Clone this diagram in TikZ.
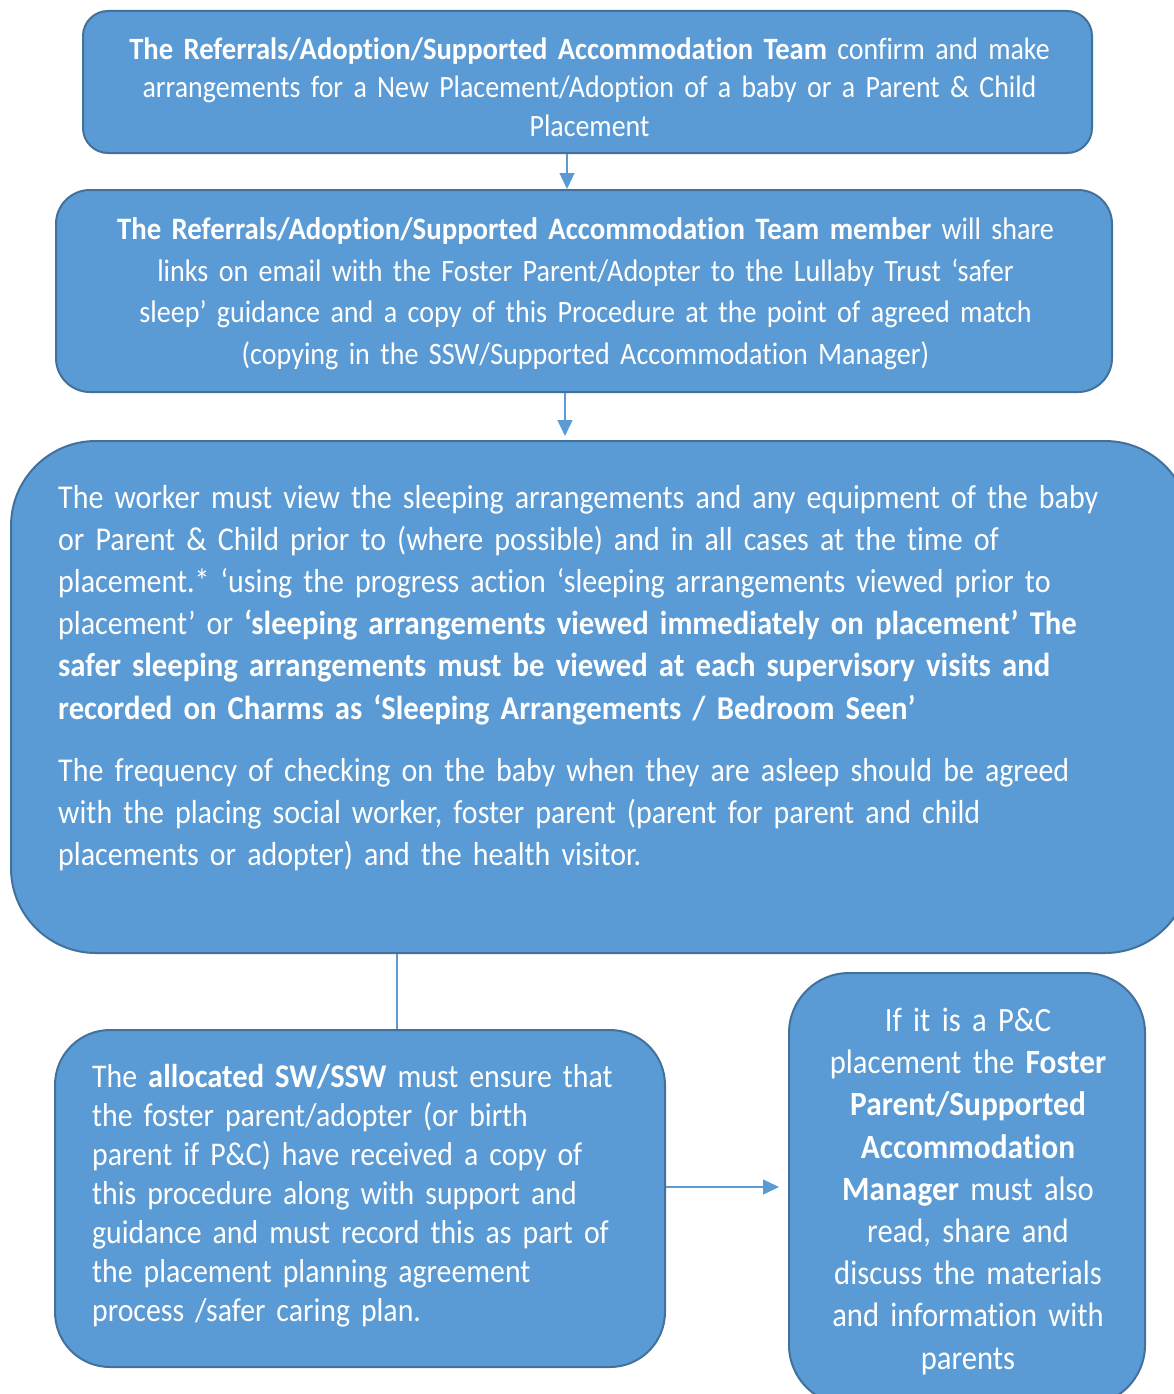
\documentclass[tikz,border=0pt]{standalone}
\usepackage{fontspec}
\setmainfont{Carlito}[Ligatures=NoCommon, UprightFeatures={FakeStretch=0.9}, BoldFeatures={FakeStretch=0.923}]
\usetikzlibrary{arrows.meta}

\definecolor{boxblue}{HTML}{5B9BD5}
\definecolor{boxedge}{HTML}{41719C}

\tikzset{
  stepbox/.style={draw=boxedge, line width=2pt, fill=boxblue, inner sep=0pt},
  boxtext/.style={text=white, inner sep=0pt},
  link/.style={draw=boxblue, line width=1.4pt},
  tip/.style={link, -{Triangle[length=16pt,width=15pt]}},
}

\begin{document}
\begin{tikzpicture}[x=1pt, y=-1pt]
    \useasboundingbox (0,0) rectangle (1174,1394);
    \clip (0,0) rectangle (1174,1394);
    % boxes
    \node[stepbox, rounded corners=25pt, minimum width=1009pt, minimum height=142pt] (team) at (587.5,82) {};
    \node[stepbox, rounded corners=34pt, minimum width=1056pt, minimum height=202pt] (member) at (584,291) {};
    \node[stepbox, rounded corners=85pt, minimum width=1179pt, minimum height=512pt] (worker) at (600.5,697) {};
    \node[stepbox, rounded corners=55pt, minimum width=610pt, minimum height=337pt] (allocated) at (360,1198.5) {};
    \node[stepbox, rounded corners=60pt, minimum width=356pt, minimum height=432pt] (manager) at (967,1189) {};
    % texts
    \node[boxtext, text width=1000pt, align=center, font=\fontsize{31}{38.5}\selectfont] (teamtext) at (589.5,86.8)
        {\textbf{The Referrals/Adoption/Supported Accommodation Team} confirm and make\\
         arrangements for a New Placement/Adoption of a baby or a Parent \& Child\\
         Placement};
    \node[boxtext, text width=1040pt, align=center, font=\fontsize{31.2}{41.5}\selectfont] (membertext) at (585.5,293.5)
        {\textbf{The Referrals/Adoption/Supported Accommodation Team member} will share\\
         links on email with the Foster Parent/Adopter to the Lullaby Trust ‘safer\\
         sleep’ guidance and a copy of this Procedure at the point of agreed match\\
         (copying in the SSW/Supported Accommodation Manager)};
    \node[boxtext, anchor=north west, text width=1110pt, align=left, font=\fontsize{33.3}{42.2}\selectfont] (workertext) at (58,484.8)
        {The worker must view the sleeping arrangements and any equipment of the baby\\
         or Parent \& Child prior to (where possible) and in all cases at the time of\\
         placement.* ‘using the progress action ‘sleeping arrangements viewed prior to\\
         placement’ or \textbf{‘sleeping arrangements viewed immediately on placement’ The}\\
         \textbf{safer sleeping arrangements must be viewed at each supervisory visits and}\\
         \textbf{recorded on Charms as ‘Sleeping Arrangements / Bedroom Seen’}\\[20pt]
         The frequency of checking on the baby when they are asleep should be agreed\\
         with the placing social worker, foster parent (parent for parent and child\\
         placements or adopter) and the health visitor.};
    \node[boxtext, anchor=west, text width=560pt, align=left, font=\fontsize{33.1}{39}\selectfont] (allocatedtext) at (92,1196.2)
        {The \textbf{allocated SW/SSW} must ensure that\\
         the foster parent/adopter (or birth\\
         parent if P\&C) have received a copy of\\
         this procedure along with support and\\
         guidance and must record this as part of\\
         the placement planning agreement\\
         process /safer caring plan.};
    \node[boxtext, text width=340pt, align=center, font=\fontsize{34}{42.2}\selectfont] (managertext) at (968,1191.4)
        {If it is a P\&C\\
         placement the \textbf{Foster}\\
         \textbf{Parent/Supported}\\
         \textbf{Accommodation}\\
         \textbf{Manager} must also\\
         read, share and\\
         discuss the materials\\
         and information with\\
         parents};
    % connectors
    \draw[tip] (team.south -| 567,0) -- (member.north -| 567,0);
    \draw[tip, shorten >=4pt] (member.south -| 565,0) -- (worker.north -| 565,0);
    \draw[link] (worker.south -| 397,0) -- (allocated.north -| 397,0);
    \draw[tip, shorten >=9pt] (allocated.east |- 0,1187) -- (manager.west |- 0,1187);
\end{tikzpicture}
\end{document}
